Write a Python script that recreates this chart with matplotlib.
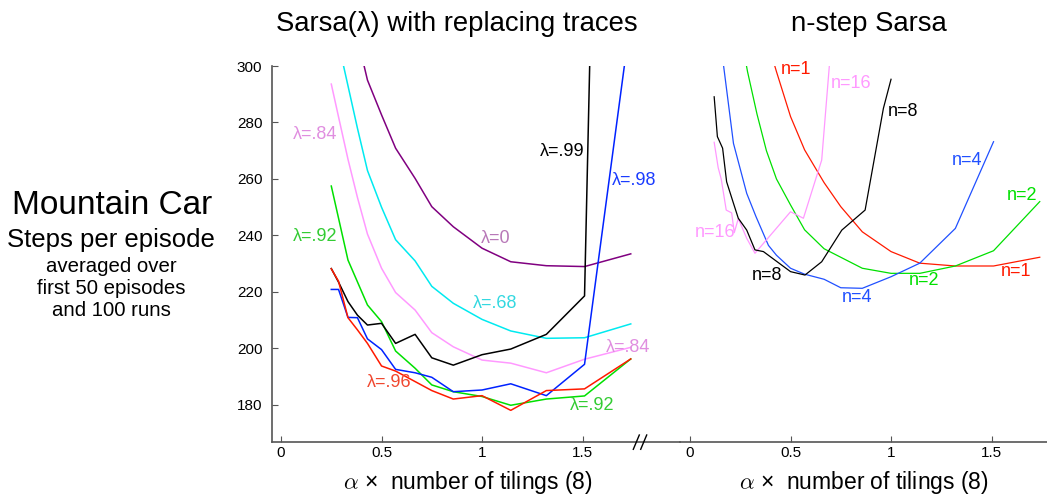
import matplotlib
matplotlib.use("Agg")
import numpy as np
import matplotlib.pyplot as plt

plt.rcParams['font.family'] = ['Liberation Sans', 'DejaVu Sans']
plt.rcParams['mathtext.fontset'] = 'cm'

# Sarsa(lambda) with replacing traces
x_lam = [0.25, 0.286, 0.333, 0.38, 0.43, 0.5, 0.57, 0.667, 0.75, 0.857, 1.0, 1.143, 1.32, 1.51, 1.74]
x_lam0 = [0.38, 0.43, 0.5, 0.57, 0.667, 0.75, 0.857, 1.0, 1.143, 1.32, 1.51, 1.74]
y_lam0 = [310, 295, 282.7, 270.9, 260.2, 250.2, 243.1, 235.5, 230.7, 229.3, 229.0, 233.5]
x_lam68 = [0.286, 0.333, 0.38, 0.43, 0.5, 0.57, 0.667, 0.75, 0.857, 1.0, 1.143, 1.32, 1.51, 1.74]
y_lam68 = [308, 293, 278, 263, 250, 238.5, 231, 222, 216, 210.3, 206.2, 203.6, 203.8, 208.7]
y_lam84 = [293.6, 282, 267, 253.5, 240.5, 228.4, 219.8, 213.6, 205.6, 200.6, 195.9, 194.8, 191.4, 196.2, 200.4]
x_lam92 = [0.25, 0.333, 0.43, 0.5, 0.57, 0.667, 0.75, 0.857, 1.0, 1.143, 1.32, 1.51, 1.74]
y_lam92 = [257.5, 231.3, 215.4, 209.5, 199.1, 193, 187.1, 184.7, 183, 179.9, 182.1, 183.2, 196.3]
x_lam96 = [0.25, 0.286, 0.333, 0.38, 0.43, 0.5, 0.57, 0.75, 0.857, 1.0, 1.143, 1.32, 1.51, 1.74]
y_lam96 = [228.2, 223.8, 210.9, 206.6, 201.8, 193.8, 192, 185.1, 182.1, 183.3, 178.1, 185.1, 185.7, 196.3]
y_lam98 = [220.9, 220.9, 211, 210.9, 203.4, 199.6, 192.6, 191.4, 189.8, 184.7, 185.3, 187.5, 183.3, 194.4, 317]
y_lam99 = [228.3, 223.5, 216.6, 211.8, 208.3, 208.9, 201.8, 205, 196.7, 194.1, 197.8, 199.8, 205, 218.6, 950]

# n-step Sarsa
x_n1 = [0.38, 0.43, 0.5, 0.57, 0.667, 0.75, 0.857, 1.0, 1.143, 1.32, 1.51, 1.74]
y_n1 = [310, 298, 282.1, 270.3, 258.7, 250.2, 241.3, 234.3, 230.2, 229.2, 229.2, 232.3]
x_n2 = [0.25, 0.286, 0.333, 0.38, 0.43, 0.5, 0.57, 0.667, 0.857, 1.0, 1.143, 1.32, 1.51, 1.74]
y_n2 = [312, 298, 283, 270, 260, 250.8, 242, 235.3, 228.4, 226.6, 226.6, 229.2, 234.6, 252]
x_n4 = [0.143, 0.167, 0.216, 0.282, 0.328, 0.39, 0.43, 0.5, 0.57, 0.667, 0.75, 0.857, 1.0, 1.143, 1.32, 1.51]
y_n4 = [315, 300, 272.6, 254.9, 246.7, 236.5, 233, 228.4, 226.3, 224.5, 221.5, 221.3, 225.4, 230.2, 242.5, 273.2]
x_n8 = [0.12, 0.136, 0.162, 0.182, 0.216, 0.24, 0.282, 0.323, 0.365, 0.5, 0.572, 0.655, 0.755, 0.871, 0.962, 1.0]
y_n8 = [289.1, 275, 270.9, 259, 251.4, 246.1, 241.9, 234.9, 234.3, 227.2, 226, 230.7, 241.9, 249, 285, 295.3]
x_n16 = [0.12, 0.14, 0.155, 0.18, 0.207, 0.22, 0.24, 0.282, 0.323, 0.5, 0.564, 0.655, 0.75]
y_n16 = [273, 264, 260, 249, 248, 241, 246, 239, 233.7, 248.4, 246.1, 266.7, 350]

yticks = [180, 200, 220, 240, 260, 280, 300]
xticks = [0, 0.5, 1, 1.5]

purple = '#800080'
cyan = '#00eaf0'
pink = '#ff99ff'
green = '#00e000'
red = '#ff1a00'
blue = '#0022ff'
gray = '#555555'

fig = plt.figure(figsize=(10.47, 4.96), dpi=100)
ax1 = fig.add_axes([272 / 1047, 1 - 441.7 / 496, 408 / 1047, 375.7 / 496])
ax2 = fig.add_axes([680 / 1047, 1 - 441.7 / 496, 367 / 1047, 375.7 / 496])

lw = 1.1
ax1.plot(x_lam0, y_lam0, c=purple, lw=lw)
ax1.plot(x_lam68, y_lam68, c=cyan, lw=lw)
ax1.plot(x_lam, y_lam84, c=pink, lw=lw)
ax1.plot(x_lam92, y_lam92, c=green, lw=lw)
ax1.plot(x_lam, y_lam99, c='black', lw=lw)
ax1.plot(x_lam, y_lam98, c=blue, lw=lw)
ax1.plot(x_lam96, y_lam96, c=red, lw=lw)

fs = 13
ax1.text(0.28, 275.6, 'λ=.84', color='#e08ee0', fontsize=fs, ha='right', va='center')
ax1.text(0.28, 239.6, 'λ=.92', color='#33cc33', fontsize=fs, ha='right', va='center')
ax1.text(1.07, 239, 'λ=0', color='#b878b8', fontsize=fs, ha='center', va='center')
ax1.text(1.51, 269.7, 'λ=.99', color='black', fontsize=fs, ha='right', va='center')
ax1.text(1.645, 259.6, 'λ=.98', color='#1a3cff', fontsize=fs, ha='left', va='center')
ax1.text(1.067, 216.1, 'λ=.68', color='#33d8e0', fontsize=fs, ha='center', va='center')
ax1.text(1.615, 200.2, 'λ=.84', color='#e08ee0', fontsize=fs, ha='left', va='center')
ax1.text(0.54, 187.9, 'λ=.96', color='#f04830', fontsize=fs, ha='center', va='center')
ax1.text(1.55, 179.8, 'λ=.92', color='#33cc33', fontsize=fs, ha='center', va='center')

lw2 = 0.9
ax2.plot(x_n1, y_n1, c=red, lw=lw2)
ax2.plot(x_n2, y_n2, c=green, lw=lw2)
ax2.plot(x_n4, y_n4, c='#2050ff', lw=lw2)
ax2.plot(x_n16, y_n16, c=pink, lw=lw2)
ax2.plot(x_n8, y_n8, c='black', lw=lw2)

ax2.text(0.45, 298.8, 'n=1', color=red, fontsize=fs, ha='left', va='center')
ax2.text(0.70, 293.9, 'n=16', color=pink, fontsize=fs, ha='left', va='center')
ax2.text(0.985, 283.8, 'n=8', color='black', fontsize=fs, ha='left', va='center')
ax2.text(1.30, 266.4, 'n=4', color='#2050ff', fontsize=fs, ha='left', va='center')
ax2.text(1.577, 254.3, 'n=2', color=green, fontsize=fs, ha='left', va='center')
ax2.text(0.025, 241, 'n=16', color=pink, fontsize=fs, ha='left', va='center')
ax2.text(0.383, 226, 'n=8', color='black', fontsize=fs, ha='center', va='center')
ax2.text(0.83, 218.1, 'n=4', color='#2050ff', fontsize=fs, ha='center', va='center')
ax2.text(1.164, 224.2, 'n=2', color=green, fontsize=fs, ha='center', va='center')
ax2.text(1.62, 227.2, 'n=1', color=red, fontsize=fs, ha='center', va='center')

ax1.set_xlim(-0.045, 1.985)
ax2.set_xlim(-0.05, 1.776)
for ax in (ax1, ax2):
    ax.set_ylim(167, 300)
    ax.set_xticks(xticks)
    ax.set_xticklabels(['0', '0.5', '1', '1.5'])
    ax.spines['top'].set_visible(False)
    ax.spines['right'].set_visible(False)
    ax.spines['bottom'].set_color(gray)
    ax.spines['bottom'].set_linewidth(1.2)
    ax.tick_params(axis='x', direction='in', length=4, width=0.8, color=gray, labelsize=11, pad=3)
    ax.patch.set_alpha(0)

ax1.set_yticks(yticks)
ax1.spines['left'].set_color(gray)
ax1.spines['left'].set_linewidth(1.2)
ax1.tick_params(axis='y', direction='in', length=4, width=0.8, color=gray, labelsize=11, pad=7)
ax2.spines['left'].set_visible(False)
ax2.set_yticks([])

# axis break marks
for dx in (0, 7.4):
    fig.add_artist(plt.Line2D([(633.3 + dx) / 1047, (639.3 + dx) / 1047],
                              [1 - 449.3 / 496, 1 - 435 / 496],
                              transform=fig.transFigure, color='black', lw=1))

fig.text(457 / 1047, 1 - 24 / 496, 'Sarsa(λ) with replacing traces', fontsize=19.8, ha='center', va='center')
fig.text(869 / 1047, 1 - 24 / 496, 'n-step Sarsa', fontsize=19.8, ha='center', va='center')

fig.text(468 / 1047, 1 - 482 / 496, r'$\alpha$ ×  number of tilings (8)', fontsize=16.5, ha='center', va='center')
fig.text(864 / 1047, 1 - 482 / 496, r'$\alpha$ ×  number of tilings (8)', fontsize=16.5, ha='center', va='center')

fig.text(112 / 1047, 1 - 205 / 496, 'Mountain Car', fontsize=24, ha='center', va='center')
fig.text(111 / 1047, 1 - 240 / 496, 'Steps per episode', fontsize=18.5, ha='center', va='center')
fig.text(111 / 1047, 1 - 267 / 496, 'averaged over', fontsize=14.7, ha='center', va='center')
fig.text(111 / 1047, 1 - 289 / 496, 'first 50 episodes', fontsize=14.7, ha='center', va='center')
fig.text(111 / 1047, 1 - 311 / 496, 'and 100 runs', fontsize=14.7, ha='center', va='center')

fig.savefig('out.png', dpi=100)
